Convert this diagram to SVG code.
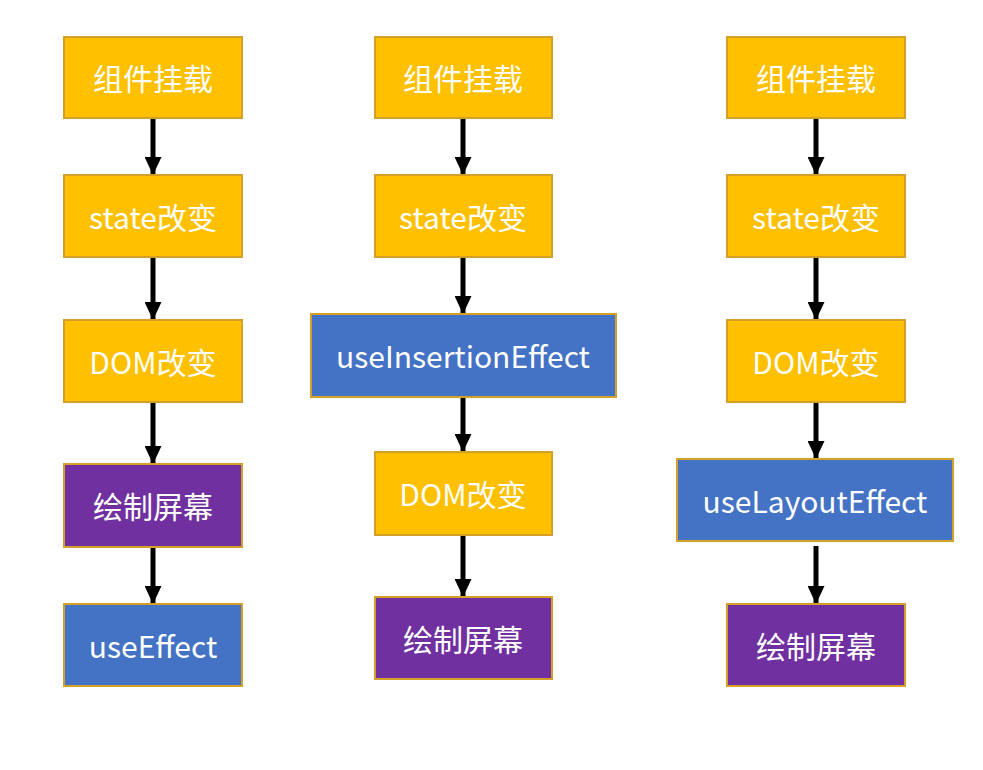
<svg xmlns="http://www.w3.org/2000/svg" width="983" height="770" viewBox="0 0 983 770">
<style>
.box{stroke:#D4A02A;stroke-width:2}
.y{fill:#FFC000}
.b{fill:#4472C4}
.p{fill:#7030A0}
.t{font-family:"Noto Sans CJK SC","Noto Sans",sans-serif;font-size:30px;fill:#FFFFFF;text-anchor:middle;dominant-baseline:central}
.c{stroke:#000;stroke-width:5;fill:none;marker-end:url(#ah)}
</style>
<defs>
<marker id="ah" viewBox="0 0 18 17" refX="18" refY="8.5" markerWidth="18" markerHeight="17" markerUnits="userSpaceOnUse" orient="auto">
<path d="M0,0 L18,8.5 L0,17 Z" fill="#000"/>
</marker>
</defs>
<rect width="983" height="770" fill="#FFFFFF"/>
<g id="connectors">
<path class="c" d="M153,118 V175"/>
<path class="c" d="M153,257 V320"/>
<path class="c" d="M153,402 V464"/>
<path class="c" d="M153,547 V604"/>
<path class="c" d="M463,118 V175"/>
<path class="c" d="M463,257 V314"/>
<path class="c" d="M463,397 V452"/>
<path class="c" d="M463,535 V597"/>
<path class="c" d="M816,118 V175"/>
<path class="c" d="M816,257 V320"/>
<path class="c" d="M816,402 V459"/>
<path class="c" d="M816,546 V604"/>
</g>
<g id="c1n1"><rect class="box y" x="64" y="37" width="178" height="81"/><text class="t" x="153" y="77">组件挂载</text></g>
<g id="c1n2"><rect class="box y" x="64" y="175" width="178" height="82"/><text class="t" x="153" y="216">state改变</text></g>
<g id="c1n3"><rect class="box y" x="64" y="320" width="178" height="82"/><text class="t" x="153" y="361">DOM改变</text></g>
<g id="c1n4"><rect class="box p" x="64" y="464" width="178" height="83"/><text class="t" x="153" y="505">绘制屏幕</text></g>
<g id="c1n5"><rect class="box b" x="64" y="604" width="178" height="82"/><text class="t" x="153" y="645">useEffect</text></g>
<g id="c2n1"><rect class="box y" x="375" y="37" width="177" height="81"/><text class="t" x="463" y="77">组件挂载</text></g>
<g id="c2n2"><rect class="box y" x="375" y="175" width="177" height="82"/><text class="t" x="463" y="216">state改变</text></g>
<g id="c2n3"><rect class="box b" x="311" y="314" width="305" height="83"/><text class="t" x="463" y="355">useInsertionEffect</text></g>
<g id="c2n4"><rect class="box y" x="375" y="452" width="177" height="83"/><text class="t" x="463" y="493">DOM改变</text></g>
<g id="c2n5"><rect class="box p" x="375" y="597" width="177" height="82"/><text class="t" x="463" y="638">绘制屏幕</text></g>
<g id="c3n1"><rect class="box y" x="727" y="37" width="178" height="81"/><text class="t" x="816" y="77">组件挂载</text></g>
<g id="c3n2"><rect class="box y" x="727" y="175" width="178" height="82"/><text class="t" x="816" y="216">state改变</text></g>
<g id="c3n3"><rect class="box y" x="727" y="320" width="178" height="82"/><text class="t" x="816" y="361">DOM改变</text></g>
<g id="c3n4"><rect class="box b" x="677" y="459" width="276" height="82"/><text class="t" x="815" y="500">useLayoutEffect</text></g>
<g id="c3n5"><rect class="box p" x="727" y="604" width="178" height="82"/><text class="t" x="816" y="645">绘制屏幕</text></g>
</svg>
